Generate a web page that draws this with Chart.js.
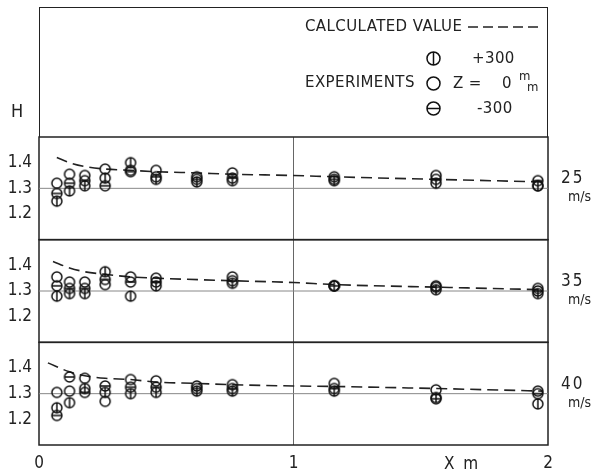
<!DOCTYPE html>
<html>
<head>
<meta charset="UTF-8">
<title>H vs X</title>
<script src="https://cdn.jsdelivr.net/npm/chart.js@4/dist/chart.umd.min.js"></script>
<style>
    body { margin: 0; background: #fff; font-family: "DejaVu Sans Condensed", "DejaVu Sans", sans-serif; color: #222; }
    #wrap { position: relative; width: 598px; height: 475px; }
    #chart { position: absolute; left: 0; top: 0; }
    .lbl { position: absolute; white-space: nowrap; line-height: 1; }
    .leg { font-family: "DejaVu Sans", sans-serif; font-size: 15px; letter-spacing: 0.4px; }
    #legendBox { position: absolute; left: 39px; top: 7px; width: 509px; height: 130px; box-sizing: border-box; border: 1.5px solid #222; border-bottom: none; }
    .sym { position: absolute; }
</style>
</head>
<body>
<div id="wrap">
    <canvas id="chart" width="598" height="475"></canvas>
    <div id="legendBox"></div>
    <div class="lbl leg" style="left:305px;top:19px;">CALCULATED VALUE</div>
    <div class="lbl leg" style="left:305px;top:75px;">EXPERIMENTS</div>
    <div class="lbl leg" style="left:472px;top:51px;">+300</div>
    <div class="lbl leg" style="left:453px;top:76px;">Z =</div>
    <div class="lbl leg" style="left:502px;top:76px;">0</div>
    <div class="lbl" style="left:519px;top:69px;font-size:13px;">m</div>
    <div class="lbl" style="left:527px;top:80px;font-size:13px;">m</div>
    <div class="lbl leg" style="left:477px;top:101px;">-300</div>
    <div class="lbl" style="left:11px;top:102px;font-size:18px;">H</div>
    <div class="lbl" style="left:561px;top:169px;font-size:17px;letter-spacing:2px;">25</div>
    <div class="lbl" style="left:568px;top:189px;font-size:14px;">m/s</div>
    <div class="lbl" style="left:561px;top:272px;font-size:17px;letter-spacing:2px;">35</div>
    <div class="lbl" style="left:568px;top:292px;font-size:14px;">m/s</div>
    <div class="lbl" style="left:561px;top:375px;font-size:17px;letter-spacing:2px;">40</div>
    <div class="lbl" style="left:568px;top:395px;font-size:14px;">m/s</div>
    <div class="lbl" style="left:444px;top:455px;font-size:17px;letter-spacing:2px;">X m</div>
</div>

<script>
    // x positions of the measuring stations (m)
    const x25 = [0.07, 0.12, 0.18, 0.26, 0.36, 0.46, 0.62, 0.76, 1.16, 1.56, 1.96];
    const x35 = [0.07, 0.12, 0.18, 0.26, 0.36, 0.46, 0.76, 1.16, 1.56, 1.96];
    const x40 = [0.07, 0.12, 0.18, 0.26, 0.36, 0.46, 0.62, 0.76, 1.16, 1.56, 1.96];

    // experiments, 25 m/s
    const h25Plus  = [1.25, 1.29, 1.31, 1.34, 1.40, 1.335, 1.325, 1.33, 1.33, 1.32, 1.31];
    const h25Zero  = [1.32, 1.355, 1.35, 1.375, 1.37, 1.37, 1.345, 1.36, 1.345, 1.35, 1.31];
    const h25Minus = [1.28, 1.32, 1.33, 1.31, 1.365, 1.345, 1.335, 1.34, 1.335, 1.335, 1.33];

    // experiments, 35 m/s
    const h35Plus  = [1.28, 1.29, 1.29, 1.375, 1.28, 1.32, 1.33, 1.32, 1.305, 1.29];
    const h35Zero  = [1.355, 1.335, 1.335, 1.325, 1.355, 1.35, 1.355, 1.32, 1.32, 1.31];
    const h35Minus = [1.32, 1.31, 1.31, 1.345, 1.335, 1.335, 1.34, 1.32, 1.315, 1.30];

    // experiments, 40 m/s
    const h40Plus  = [1.245, 1.265, 1.32, 1.305, 1.30, 1.305, 1.31, 1.31, 1.31, 1.285, 1.26];
    const h40Zero  = [1.305, 1.31, 1.36, 1.27, 1.355, 1.35, 1.33, 1.335, 1.34, 1.315, 1.31];
    const h40Minus = [1.215, 1.365, 1.305, 1.33, 1.325, 1.325, 1.32, 1.32, 1.32, 1.28, 1.30];

    // calculated values
    const c25x = [0.07, 0.12, 0.18, 0.26, 0.36, 0.46, 0.62, 0.76, 1.0, 1.16, 1.56, 1.98];
    const c25  = [1.42, 1.40, 1.385, 1.375, 1.37, 1.365, 1.36, 1.355, 1.35, 1.345, 1.335, 1.325];
    const c35x = [0.055, 0.12, 0.18, 0.26, 0.36, 0.46, 0.76, 1.0, 1.16, 1.56, 1.98];
    const c35  = [1.415, 1.39, 1.375, 1.365, 1.355, 1.35, 1.34, 1.333, 1.325, 1.315, 1.305];
    const c40x = [0.035, 0.12, 0.18, 0.26, 0.36, 0.46, 0.62, 0.76, 1.0, 1.16, 1.56, 1.98];
    const c40  = [1.42, 1.385, 1.37, 1.36, 1.355, 1.345, 1.34, 1.335, 1.33, 1.328, 1.32, 1.31];

    const refX = [0, 2];
    const refH = [1.3, 1.3];

    const yTicks = [1.2, 1.3, 1.4];
    const xTicks = [0, 1, 2];

    const ink = '#222';

    function pts(xs, ys) {
        return xs.map((x, i) => ({ x: x, y: ys[i] }));
    }

    // circle marker, optionally with a vertical or horizontal bar
    function makeMarker(r, kind) {
        const s = Math.ceil(r * 2 + 4);
        const c = document.createElement('canvas');
        c.width = s; c.height = s;
        const g = c.getContext('2d');
        const m = s / 2;
        g.strokeStyle = '#111';
        g.lineWidth = 1.5;
        g.beginPath();
        g.arc(m, m, r, 0, Math.PI * 2);
        if (kind === 'v') { g.moveTo(m, m - r); g.lineTo(m, m + r); }
        if (kind === 'h') { g.moveTo(m - r, m); g.lineTo(m + r, m); }
        g.stroke();
        return c;
    }

    const mkPlus = makeMarker(5, 'v');
    const mkZero = makeMarker(5, '');
    const mkMinus = makeMarker(5, 'h');

    // legend symbols
    [['v', 58], ['', 83], ['h', 108]].forEach(([k, cy]) => {
        const c = makeMarker(6.5, k);
        c.className = 'sym';
        c.style.left = (433 - c.width / 2) + 'px';
        c.style.top = (cy - c.height / 2) + 'px';
        document.getElementById('wrap').appendChild(c);
    });
    // legend dash sample
    (function () {
        const c = document.createElement('canvas');
        c.width = 72; c.height = 4;
        c.className = 'sym';
        c.style.left = '468px'; c.style.top = '25px';
        const g = c.getContext('2d');
        g.strokeStyle = ink; g.lineWidth = 1.5; g.setLineDash([10, 5]);
        g.beginPath(); g.moveTo(0, 2); g.lineTo(72, 2); g.stroke();
        document.getElementById('wrap').appendChild(c);
    })();

    function expSet(xs, ys, marker, axis) {
        return {
            type: 'scatter', data: pts(xs, ys), yAxisID: axis,
            pointStyle: marker, pointRadius: 5, showLine: false, order: 1
        };
    }
    function calcSet(xs, ys, axis) {
        return {
            type: 'line', data: pts(xs, ys), yAxisID: axis,
            borderColor: ink, borderWidth: 1.6, borderDash: [11, 6],
            pointRadius: 0, cubicInterpolationMode: 'monotone', order: 2
        };
    }
    function refSet(axis) {
        return {
            type: 'line', data: pts(refX, refH), yAxisID: axis,
            borderColor: '#888', borderWidth: 1, pointRadius: 0, order: 3
        };
    }

    function yAxis(weight) {
        return {
            type: 'linear', position: 'left', stack: 'panels', stackWeight: 1, weight: weight,
            min: 1.1, max: 1.5,
            afterBuildTicks: s => { s.ticks = yTicks.map(v => ({ value: v })); },
            afterFit: s => { s.width = 39; },
            ticks: { callback: v => v.toFixed(1), color: ink, padding: 7, font: { size: 17, family: '"DejaVu Sans Condensed", "DejaVu Sans"' } },
            grid: { display: false, drawTicks: false },
            border: { display: false }
        };
    }

    // panel frames
    const framePlugin = {
        id: 'frames',
        beforeDatasetsDraw(chart) {
            const { ctx, chartArea } = chart;
            ctx.save();
            ctx.strokeStyle = ink;
            ctx.lineWidth = 1.5;
            ['y1', 'y2', 'y3'].forEach(id => {
                const s = chart.scales[id];
                ctx.strokeRect(chartArea.left, s.top, chartArea.right - chartArea.left, s.bottom - s.top);
            });
            ctx.restore();
        }
    };

    new Chart(document.getElementById('chart'), {
        data: {
            datasets: [
                refSet('y1'), calcSet(c25x, c25, 'y1'),
                expSet(x25, h25Plus, mkPlus, 'y1'), expSet(x25, h25Zero, mkZero, 'y1'), expSet(x25, h25Minus, mkMinus, 'y1'),
                refSet('y2'), calcSet(c35x, c35, 'y2'),
                expSet(x35, h35Plus, mkPlus, 'y2'), expSet(x35, h35Zero, mkZero, 'y2'), expSet(x35, h35Minus, mkMinus, 'y2'),
                refSet('y3'), calcSet(c40x, c40, 'y3'),
                expSet(x40, h40Plus, mkPlus, 'y3'), expSet(x40, h40Zero, mkZero, 'y3'), expSet(x40, h40Minus, mkMinus, 'y3')
            ]
        },
        options: {
            responsive: false,
            animation: false,
            layout: { padding: { top: 137, right: 50, left: 0, bottom: 0 } },
            plugins: { legend: { display: false }, tooltip: { enabled: false } },
            scales: {
                x: {
                    type: 'linear', min: 0, max: 2,
                    afterBuildTicks: s => { s.ticks = xTicks.map(v => ({ value: v })); },
                    afterFit: s => { s.height = 30; },
                    ticks: { color: ink, padding: 8, font: { size: 17, family: '"DejaVu Sans Condensed", "DejaVu Sans"' } },
                    grid: {
                        drawTicks: false,
                        color: c => c.tick && c.tick.value === 1 ? '#666' : 'rgba(0,0,0,0)',
                        lineWidth: 1
                    },
                    border: { display: false }
                },
                y1: yAxis(3),
                y2: yAxis(2),
                y3: yAxis(1)
            }
        },
        plugins: [framePlugin]
    });
</script>
</body>
</html>
